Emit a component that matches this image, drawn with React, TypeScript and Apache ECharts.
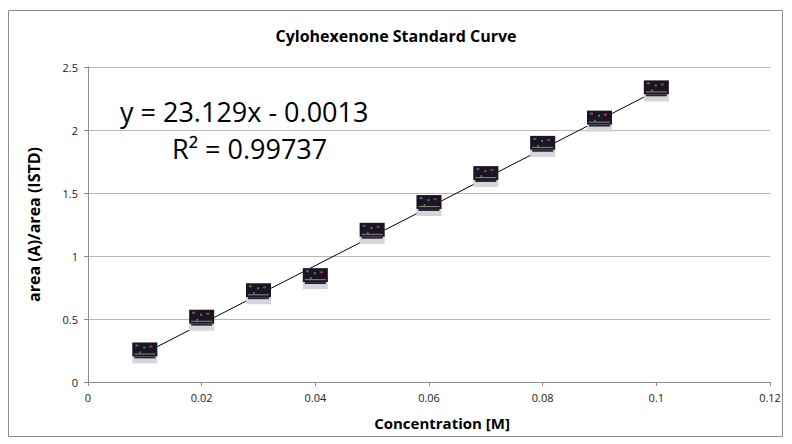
import React, { useEffect, useRef } from "react";
import * as echarts from "echarts";

// Calibration standards: concentration [M] vs. peak-area ratio
const concentration = [0.01, 0.02, 0.03, 0.04, 0.05, 0.06, 0.07, 0.08, 0.09, 0.1];
const areaRatio = [0.23, 0.49, 0.7, 0.82, 1.18, 1.4, 1.63, 1.87, 2.07, 2.31];

// Linear least-squares fit reported on the chart
const slope = 23.129;
const intercept = -0.0013;
const rSquared = "0.99737";

const xTicks = { min: 0, max: 0.12, interval: 0.02 };
const yTicks = { min: 0, max: 2.5, interval: 0.5 };

const W = 776;
const H = 430;
const FONT = "'Open Sans', 'Liberation Sans', sans-serif";

export default function App() {
  const ref = useRef<HTMLDivElement>(null);

  useEffect(() => {
    if (!ref.current) return;
    const chart = echarts.init(ref.current, null, { renderer: "svg" });

    const xFirst = concentration[0];
    const xLast = concentration[concentration.length - 1];
    const fitLine = [
      [xFirst, slope * xFirst + intercept],
      [xLast, slope * xLast + intercept],
    ];

    const points = concentration.map((c, i) => [c, areaRatio[i]]);

    chart.setOption({
      animation: false,
      backgroundColor: "#ffffff",
      title: {
        text: "Cylohexenone Standard Curve",
        left: "center",
        top: 15,
        textStyle: { fontFamily: FONT, fontSize: 16, fontWeight: "bold", color: "#000" },
      },
      grid: { left: 80, right: 14, top: 59, bottom: 56, containLabel: false },
      xAxis: {
        type: "value",
        min: xTicks.min,
        max: xTicks.max,
        interval: xTicks.interval,
        name: "Concentration [M]",
        nameLocation: "middle",
        nameGap: 33,
        nameTextStyle: {
          fontFamily: FONT,
          fontSize: 15,
          fontWeight: "bold",
          color: "#000",
          padding: [0, 0, 0, 26],
        },
        axisLine: { show: true, lineStyle: { color: "#8c8c8c", width: 1 } },
        axisTick: { show: true, length: 4, lineStyle: { color: "#8c8c8c" } },
        axisLabel: {
          fontFamily: FONT,
          fontSize: 11,
          color: "#222",
          margin: 10,
          formatter: (v: number) => String(Number(v.toFixed(2))),
        },
        splitLine: { show: false },
      },
      yAxis: {
        type: "value",
        min: yTicks.min,
        max: yTicks.max,
        interval: yTicks.interval,
        name: "area (A)/area (ISTD)",
        nameLocation: "middle",
        nameGap: 46,
        nameTextStyle: { fontFamily: FONT, fontSize: 16, fontWeight: "bold", color: "#000" },
        axisLine: { show: true, lineStyle: { color: "#8c8c8c", width: 1 } },
        axisTick: { show: true, length: 4, lineStyle: { color: "#8c8c8c" } },
        axisLabel: {
          fontFamily: FONT,
          fontSize: 11,
          color: "#222",
          margin: 10,
          formatter: (v: number) => String(Number(v.toFixed(1))),
        },
        splitLine: { show: true, lineStyle: { color: "#b8b8b8", width: 1 } },
      },
      series: [
        {
          type: "line",
          data: fitLine,
          symbol: "none",
          lineStyle: { color: "#000", width: 1 },
          silent: true,
          z: 2,
        },
        {
          type: "custom",
          data: points,
          z: 3,
          renderItem: (params: any, api: any) => {
            const p = api.coord([api.value(0), api.value(1)]);
            const w = 25;
            const h = 21;
            const x0 = p[0] - w / 2;
            const y0 = p[1] - h / 2;
            return {
              type: "group",
              children: [
                { type: "rect", shape: { x: x0, y: y0, width: w, height: h }, style: { fill: "#d6d4dc" } },
                { type: "rect", shape: { x: x0, y: y0, width: w, height: h * 0.66 }, style: { fill: "#1b1522" } },
                { type: "rect", shape: { x: x0 + 2, y: y0 + h * 0.66, width: w - 4, height: 2 }, style: { fill: "#2a2530" } },
                { type: "rect", shape: { x: x0 + 3, y: y0 + 2, width: 3, height: 2 }, style: { fill: "#7a4a8a" } },
                { type: "rect", shape: { x: x0 + 11, y: y0 + 4, width: 2, height: 2 }, style: { fill: "#3a8a7a" } },
                { type: "rect", shape: { x: x0 + 17, y: y0 + 3, width: 3, height: 2 }, style: { fill: "#8a3a5a" } },
                { type: "rect", shape: { x: x0 + 7, y: y0 + 9, width: 2, height: 2 }, style: { fill: "#4a7a3a" } },
                { type: "rect", shape: { x: x0 + 2, y: y0 + 11, width: 21, height: 1 }, style: { fill: "#8c8a94" } },
              ],
            };
          },
        },
      ],
      graphic: [
        {
          type: "rect",
          shape: { x: 0.5, y: 2.5, width: W - 2, height: H - 4 },
          style: { fill: "none", stroke: "#8c8c8c", lineWidth: 1 },
          silent: true,
          z: 0,
        },
        {
          type: "text",
          x: 112,
          y: 103,
          style: {
            text: `y = ${slope}x - ${Math.abs(intercept)}`,
            fontFamily: FONT,
            fontSize: 27,
            fill: "#000",
            verticalAlign: "middle",
          },
        },
        {
          type: "text",
          x: 164,
          y: 140,
          style: {
            text: `R² = ${rSquared}`,
            fontFamily: FONT,
            fontSize: 27,
            fill: "#000",
            verticalAlign: "middle",
          },
        },
      ],
    });

    return () => chart.dispose();
  }, []);

  return <div ref={ref} style={{ width: W, height: H }} />;
}
